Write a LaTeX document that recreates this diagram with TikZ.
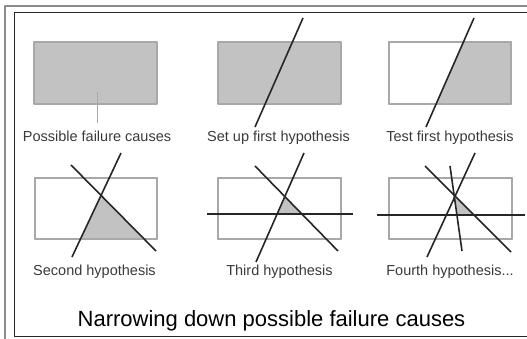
\documentclass[tikz,border=0pt]{standalone}
\usepackage{fontspec}
\setmainfont{Liberation Sans}
\definecolor{causegray}{HTML}{C2C2C2}
\definecolor{edgegray}{HTML}{A8A8A8}
\definecolor{framegray}{HTML}{8C8C8C}
\definecolor{labelgray}{HTML}{3A3A3A}
\definecolor{hypline}{HTML}{262626}

\begin{document}
\begin{tikzpicture}[x=1pt, y=-1pt, line join=round,
    cause/.style={fill=causegray, draw=edgegray, line width=1.1pt},
    empty/.style={fill=white, draw=edgegray, line width=1.1pt},
    hyp/.style={draw=hypline, line width=1.6pt},
    lbl/.style={text=labelgray, anchor=base, inner sep=0pt, font=\fontsize{14.5}{16}\selectfont}]
    \useasboundingbox (0,0) rectangle (527,339);

    % frame
    \draw[framegray, line width=2.6pt] (5,339) -- (5,6) -- (527,6);
    \draw[black!85, line width=0.8pt] (527,12.5) -- (14,12.5) -- (14,336) -- (527,336);

    % panel 1: possible failure causes
    \coordinate (R1a) at (34,42);
    \coordinate (R1b) at (157,104);
    \coordinate (C1) at (97,92);
    \draw[cause] (R1a) rectangle (R1b);
    \node[lbl] (lab1) at (97,141.5) {Possible failure causes};
    \draw[edgegray, line width=0.9pt, shorten >=8pt] (C1) -- (lab1.north);

    % panel 2: first hypothesis
    \coordinate (R2a) at (218,42);
    \coordinate (R2b) at (341,104);
    \coordinate (H2a) at (303,18);
    \coordinate (H2b) at (255,127);
    \draw[cause] (R2a) rectangle (R2b);
    \draw[hyp] (H2a) -- (H2b);
    \node[lbl] (lab2) at (278.5,141.5) {Set up first hypothesis};

    % panel 3: test it
    \coordinate (R3a) at (389,42);
    \coordinate (R3b) at (511,104);
    \coordinate (H3a) at (474,18);
    \coordinate (H3b) at (426,127);
    \draw[empty] (R3a) rectangle (R3b);
    \begin{scope}
      \clip (R3a) rectangle (R3b);
      \fill[causegray] (H3a) -- (H3b) -- (520,127) -- (520,18) -- cycle;
    \end{scope}
    \draw[edgegray, line width=1.1pt] (R3a) rectangle (R3b);
    \draw[hyp] (H3a) -- (H3b);
    \node[lbl] (lab3) at (450,141.5) {Test first hypothesis};

    % panel 4: second hypothesis
    \coordinate (R4a) at (35,178);
    \coordinate (R4b) at (157,239);
    \coordinate (H4a) at (121,153);
    \coordinate (H4b) at (72,257);
    \coordinate (K4a) at (71,165);
    \coordinate (K4b) at (156,251);
    \coordinate (X4) at (intersection of H4a--H4b and K4a--K4b);
    \draw[empty] (R4a) rectangle (R4b);
    \begin{scope}
      \clip (R4a) rectangle (R4b);
      \fill[causegray] (X4) -- (H4b) -- (K4b) -- cycle;
    \end{scope}
    \draw[edgegray, line width=1.1pt] (R4a) rectangle (R4b);
    \draw[hyp] (H4a) -- (H4b);
    \draw[hyp] (K4a) -- (K4b);
    \node[lbl] (lab4) at (94.5,275.5) {Second hypothesis};

    % panel 5: third hypothesis
    \coordinate (R5a) at (218,178);
    \coordinate (R5b) at (341,239);
    \coordinate (H5a) at (304,153);
    \coordinate (H5b) at (256,262);
    \coordinate (K5a) at (255,166);
    \coordinate (K5b) at (338,251);
    \coordinate (G5a) at (207,214);
    \coordinate (G5b) at (353,214);
    \coordinate (X5) at (intersection of H5a--H5b and K5a--K5b);
    \draw[empty] (R5a) rectangle (R5b);
    \begin{scope}
      \clip (R5a) rectangle (341,214);
      \fill[causegray] (X5) -- (H5b) -- (K5b) -- cycle;
    \end{scope}
    \draw[edgegray, line width=1.1pt] (R5a) rectangle (R5b);
    \draw[hyp] (H5a) -- (H5b);
    \draw[hyp] (K5a) -- (K5b);
    \draw[hyp] (G5a) -- (G5b);
    \node[lbl] (lab5) at (279.5,275.5) {Third hypothesis};

    % panel 6: fourth hypothesis
    \coordinate (R6a) at (389,178);
    \coordinate (R6b) at (512,239);
    \coordinate (H6a) at (475,153);
    \coordinate (H6b) at (427,257);
    \coordinate (K6a) at (425,166);
    \coordinate (K6b) at (511,252);
    \coordinate (V6a) at (450,166);
    \coordinate (V6b) at (462,251);
    \coordinate (G6a) at (377,215);
    \coordinate (G6b) at (525,215);
    \coordinate (X6) at (intersection of V6a--V6b and K6a--K6b);
    \draw[empty] (R6a) rectangle (R6b);
    \begin{scope}
      \clip (R6a) rectangle (512,215);
      \fill[causegray] (X6) -- (V6b) -- (K6b) -- cycle;
    \end{scope}
    \draw[edgegray, line width=1.1pt] (R6a) rectangle (R6b);
    \draw[hyp] (H6a) -- (H6b);
    \draw[hyp] (K6a) -- (K6b);
    \draw[hyp] (V6a) -- (V6b);
    \draw[hyp] (G6a) -- (G6b);
    \node[lbl] (lab6) at (450,275.5) {Fourth hypothesis...};

    % caption
    \node[anchor=base, inner sep=0pt, font=\fontsize{22}{26}\selectfont] (title) at (271.5,326) {Narrowing down possible failure causes};
\end{tikzpicture}
\end{document}
